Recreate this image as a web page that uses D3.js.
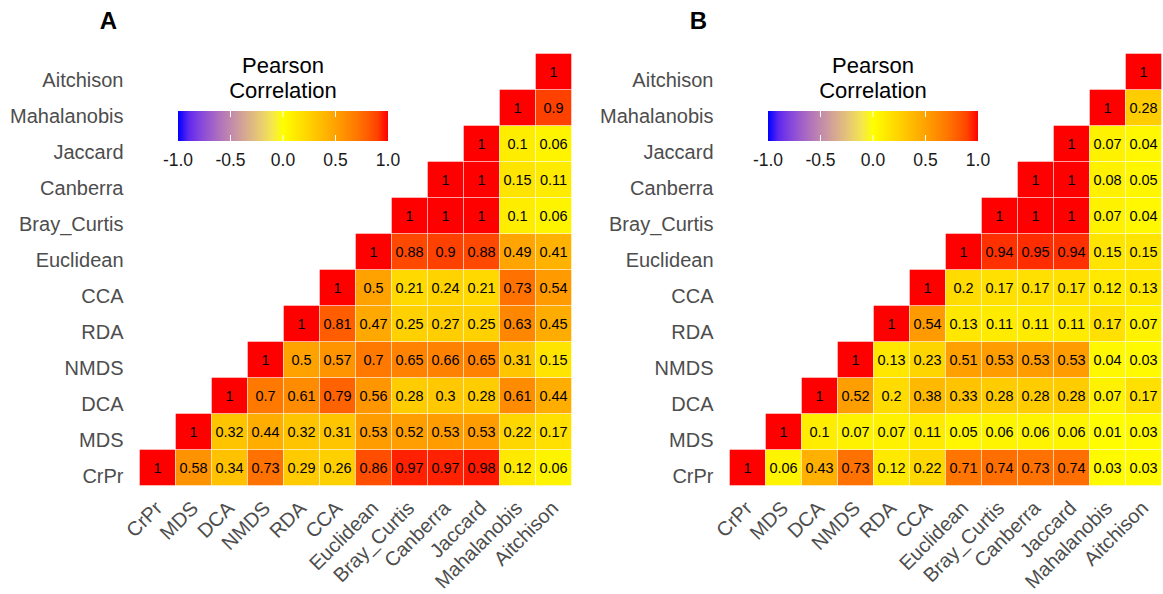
<!DOCTYPE html>
<html>
<head>
<meta charset="utf-8">
<script src="https://cdn.jsdelivr.net/npm/d3@7"></script>
<style>
  body { margin: 0; background: #fff; }
  svg { font-family: "Liberation Sans", Arial, sans-serif; }
</style>
</head>
<body>
<div id="chart"></div>
<script>
// variables, bottom-left to top-right
var vars = ["CrPr","MDS","DCA","NMDS","RDA","CCA","Euclidean","Bray_Curtis","Canberra","Jaccard","Mahalanobis","Aitchison"];

// each row starts at the diagonal (row var vs itself) and runs to the right
var valuesA = [
  [1, 0.58, 0.34, 0.73, 0.29, 0.26, 0.86, 0.97, 0.97, 0.98, 0.12, 0.06],
  [1, 0.32, 0.44, 0.32, 0.31, 0.53, 0.52, 0.53, 0.53, 0.22, 0.17],
  [1, 0.7, 0.61, 0.79, 0.56, 0.28, 0.3, 0.28, 0.61, 0.44],
  [1, 0.5, 0.57, 0.7, 0.65, 0.66, 0.65, 0.31, 0.15],
  [1, 0.81, 0.47, 0.25, 0.27, 0.25, 0.63, 0.45],
  [1, 0.5, 0.21, 0.24, 0.21, 0.73, 0.54],
  [1, 0.88, 0.9, 0.88, 0.49, 0.41],
  [1, 1, 1, 0.1, 0.06],
  [1, 1, 0.15, 0.11],
  [1, 0.1, 0.06],
  [1, 0.9],
  [1]
];

var valuesB = [
  [1, 0.06, 0.43, 0.73, 0.12, 0.22, 0.71, 0.74, 0.73, 0.74, 0.03, 0.03],
  [1, 0.1, 0.07, 0.07, 0.11, 0.05, 0.06, 0.06, 0.06, 0.01, 0.03],
  [1, 0.52, 0.2, 0.38, 0.33, 0.28, 0.28, 0.28, 0.07, 0.17],
  [1, 0.13, 0.23, 0.51, 0.53, 0.53, 0.53, 0.04, 0.03],
  [1, 0.54, 0.13, 0.11, 0.11, 0.11, 0.17, 0.07],
  [1, 0.2, 0.17, 0.17, 0.17, 0.12, 0.13],
  [1, 0.94, 0.95, 0.94, 0.15, 0.15],
  [1, 1, 1, 0.07, 0.04],
  [1, 1, 0.08, 0.05],
  [1, 0.07, 0.04],
  [1, 0.28],
  [1]
];

var legendTicks = [-1, -0.5, 0, 0.5, 1];

var W = 1163, H = 594;
var svg = d3.select("#chart").append("svg")
  .attr("width", W)
  .attr("height", H);

var color = d3.scaleLinear()
  .domain([-1, 0, 1])
  .range(["blue", "yellow", "red"])
  .interpolate(d3.interpolateLab);

var gridSize = 432;

function drawPanel(left, top, values, tag, idx) {
  var g = svg.append("g").attr("transform", "translate(" + left + "," + top + ")");

  var x = d3.scaleBand().domain(vars).range([0, gridSize]);
  var y = d3.scaleBand().domain(vars).range([gridSize, 0]);

  // flatten rows into cells
  var cells = [];
  values.forEach(function(row, i) {
    row.forEach(function(v, k) {
      cells.push({ r: vars[i], c: vars[i + k], v: v });
    });
  });

  g.selectAll("rect.cell")
    .data(cells)
    .enter().append("rect")
    .attr("class", "cell")
    .attr("x", function(d) { return x(d.c); })
    .attr("y", function(d) { return y(d.r); })
    .attr("width", x.bandwidth())
    .attr("height", y.bandwidth())
    .style("fill", function(d) { return color(d.v); })
    .style("stroke", "white")
    .style("stroke-width", 0.6)
    .style("stroke-opacity", 0.7);

  g.selectAll("text.val")
    .data(cells)
    .enter().append("text")
    .attr("class", "val")
    .attr("x", function(d) { return x(d.c) + x.bandwidth() / 2; })
    .attr("y", function(d) { return y(d.r) + y.bandwidth() / 2; })
    .attr("dy", "0.36em")
    .attr("text-anchor", "middle")
    .style("font-size", "14.5px")
    .style("fill", "#000")
    .text(function(d) { return String(d.v); });

  // y axis
  var yAxis = g.append("g").call(d3.axisLeft(y).tickSize(0).tickPadding(16));
  yAxis.select(".domain").remove();
  yAxis.selectAll("text")
    .attr("y", 9)
    .style("font-size", "20px")
    .style("fill", "#4d4d4d")
    .style("font-family", "Liberation Sans, Arial, sans-serif");

  // x axis, rotated labels
  var xAxis = g.append("g")
    .attr("transform", "translate(0," + gridSize + ")")
    .call(d3.axisBottom(x).tickSize(0));
  xAxis.select(".domain").remove();
  xAxis.selectAll("text")
    .attr("x", 0).attr("y", 0).attr("dy", 0)
    .attr("transform", "translate(6,24) rotate(-45)")
    .style("text-anchor", "end")
    .style("font-size", "20px")
    .style("fill", "#4d4d4d")
    .style("font-family", "Liberation Sans, Arial, sans-serif");

  // panel tag
  svg.append("text")
    .attr("x", left - 31)
    .attr("y", 29)
    .attr("text-anchor", "middle")
    .style("font-size", "24px")
    .style("font-weight", "bold")
    .style("fill", "#000")
    .text(tag);

  // legend
  var lx = left + 38.5, ly = 111, lw = 210, lh = 30;
  var lg = svg.append("g").attr("transform", "translate(" + lx + "," + ly + ")");
  var gradId = "grad" + idx;
  var grad = svg.append("defs").append("linearGradient")
    .attr("id", gradId)
    .attr("x1", "0%").attr("x2", "100%").attr("y1", "0%").attr("y2", "0%");
  grad.selectAll("stop")
    .data(d3.range(0, 21).map(function(i) { return -1 + i * 0.1; }))
    .enter().append("stop")
    .attr("offset", function(d) { return ((d + 1) / 2 * 100) + "%"; })
    .attr("stop-color", function(d) { return color(d); });

  lg.append("rect")
    .attr("width", lw).attr("height", lh)
    .style("fill", "url(#" + gradId + ")");

  var ls = d3.scaleLinear().domain([-1, 1]).range([0, lw]);
  lg.selectAll("line.tk")
    .data(legendTicks.slice(1, -1))
    .enter().append("g")
    .each(function(d) {
      var t = d3.select(this);
      t.append("line").attr("x1", ls(d)).attr("x2", ls(d)).attr("y1", 0).attr("y2", 6);
      t.append("line").attr("x1", ls(d)).attr("x2", ls(d)).attr("y1", lh - 6).attr("y2", lh);
    })
    .selectAll("line")
    .style("stroke", "white")
    .style("stroke-width", 1);

  lg.selectAll("text.lab")
    .data(legendTicks)
    .enter().append("text")
    .attr("class", "lab")
    .attr("x", function(d) { return ls(d); })
    .attr("y", 55)
    .attr("text-anchor", "middle")
    .style("font-size", "17.5px")
    .style("fill", "#1a1a1a")
    .text(function(d) { return d.toFixed(1); });

  lg.append("text")
    .attr("x", lw / 2).attr("y", -38.5)
    .attr("text-anchor", "middle")
    .style("font-size", "22px")
    .style("fill", "#000")
    .text("Pearson");
  lg.append("text")
    .attr("x", lw / 2).attr("y", -13.5)
    .attr("text-anchor", "middle")
    .style("font-size", "22px")
    .style("fill", "#000")
    .text("Correlation");
}

drawPanel(139.5, 53.5, valuesA, "A", 0);
drawPanel(729.5, 53.5, valuesB, "B", 1);
</script>
</body>
</html>
